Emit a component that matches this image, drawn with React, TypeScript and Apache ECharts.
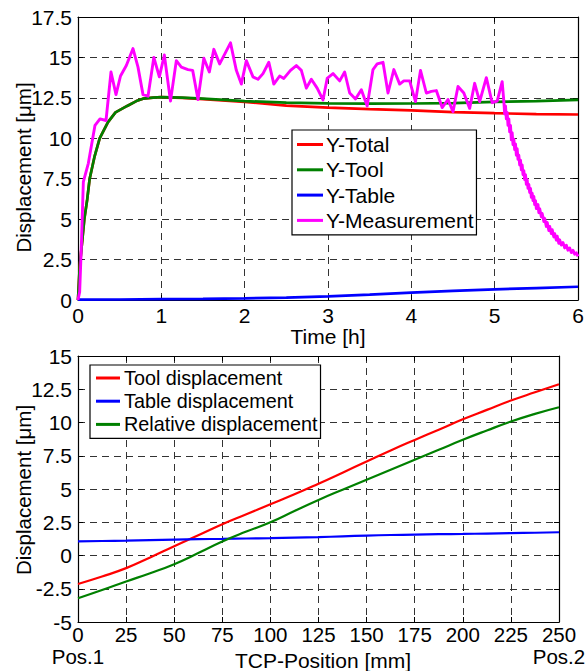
import React, { useEffect, useRef } from 'react';
import * as echarts from 'echarts';

const FONT = '"Liberation Sans", Arial, Helvetica, sans-serif';

// ---------- Top chart: displacement over time ----------
const timeTicks = [0, 1, 2, 3, 4, 5, 6];

const yTool: [number, number][] = [
  [0, 0], [0.02, 2.0], [0.044, 3.3], [0.076, 5.0], [0.11, 6.2], [0.14, 7.5], [0.2, 8.9],
  [0.26, 10.0], [0.36, 11.0], [0.45, 11.6], [0.59, 12.0], [0.7, 12.3], [0.78, 12.45],
  [0.9, 12.52], [1.0, 12.55], [1.25, 12.52], [1.5, 12.45], [2, 12.3], [2.5, 12.2],
  [3, 12.16], [3.5, 12.14], [4, 12.15], [4.5, 12.18], [5, 12.25], [5.5, 12.3], [6, 12.38],
];

const yTotal: [number, number][] = [
  [0, 0], [0.02, 2.0], [0.044, 3.3], [0.076, 5.0], [0.11, 6.2], [0.14, 7.5], [0.2, 8.9],
  [0.26, 10.0], [0.36, 11.0], [0.45, 11.6], [0.59, 12.0], [0.7, 12.3], [0.78, 12.45],
  [0.9, 12.52], [1.0, 12.55], [1.25, 12.5], [1.5, 12.42], [2, 12.25], [2.5, 12.02],
  [3, 11.9], [3.5, 11.8], [4, 11.72], [4.5, 11.62], [5, 11.55], [5.5, 11.5], [6, 11.47],
];

const yTable: [number, number][] = [
  [0, 0.02], [0.5, 0.03], [1, 0.05], [1.5, 0.07], [2, 0.1], [2.5, 0.15], [3, 0.22],
  [3.5, 0.33], [4, 0.45], [4.5, 0.56], [5, 0.66], [5.5, 0.74], [6, 0.82],
];

const yMeasurement: [number, number][] = [
  [0, 0], [0.02, 0.5], [0.04, 3.3], [0.064, 7.3], [0.124, 8.45], [0.204, 10.8], [0.264, 11.2],
  [0.336, 11.1], [0.396, 14.1], [0.456, 12.7], [0.51, 13.85], [0.58, 14.5], [0.66, 15.55],
  [0.72, 14.4], [0.78, 12.7], [0.84, 12.6], [0.91, 15.0], [0.976, 13.8], [1.036, 15.15],
  [1.11, 12.3], [1.18, 14.8], [1.24, 14.4], [1.32, 14.25], [1.376, 14.2], [1.44, 12.4],
  [1.51, 14.95], [1.576, 14.1], [1.63, 15.5], [1.7, 14.6], [1.83, 15.9], [1.9, 14.2],
  [1.96, 13.35], [2.02, 14.8], [2.1, 13.8], [2.16, 13.65], [2.22, 14.0], [2.29, 14.7],
  [2.35, 13.35], [2.42, 13.85], [2.47, 13.7], [2.55, 14.2], [2.62, 14.5], [2.68, 14.2],
  [2.74, 13.1], [2.8, 13.65], [2.87, 13.1], [2.94, 12.37], [2.99, 13.7], [3.06, 14.0],
  [3.14, 13.55], [3.2, 14.1], [3.26, 12.8], [3.33, 12.43], [3.4, 13.0], [3.47, 12.0],
  [3.54, 14.25], [3.59, 14.6], [3.66, 14.7], [3.72, 12.8], [3.79, 14.25], [3.86, 13.35],
  [3.91, 13.55], [3.98, 13.55], [4.05, 12.27], [4.11, 14.2], [4.18, 12.8], [4.24, 12.9],
  [4.3, 12.95], [4.37, 11.9], [4.44, 12.4], [4.5, 11.65], [4.56, 13.2], [4.63, 12.8],
  [4.7, 11.85], [4.76, 13.4], [4.82, 12.27], [4.9, 13.75], [4.97, 12.2], [5.03, 12.3],
  [5.09, 13.5], [5.11, 12.3], [5.12, 11.5], [5.13, 12.0], [5.14, 11.2], [5.15, 11.6],
  [5.16, 10.8], [5.17, 11.2], [5.18, 10.4], [5.19, 10.8], [5.2, 9.9], [5.21, 10.35],
  [5.22, 9.6], [5.23, 9.95], [5.24, 9.3], [5.25, 9.65], [5.26, 8.95], [5.27, 9.35], [5.28, 8.7],
  [5.29, 8.95], [5.3, 8.35], [5.31, 8.65], [5.32, 8.05], [5.33, 8.35], [5.34, 7.75], [5.35, 8.0],
  [5.36, 7.45], [5.37, 7.75], [5.38, 7.15], [5.39, 7.45], [5.4, 6.9], [5.41, 7.15], [5.42, 6.65],
  [5.43, 6.9], [5.44, 6.35], [5.45, 6.6], [5.46, 6.15], [5.47, 6.4], [5.48, 5.9],
  [5.49, 6.15], [5.5, 5.65], [5.52, 5.9], [5.53, 5.4], [5.54, 5.65], [5.56, 5.15], [5.57, 5.35],
  [5.59, 4.85], [5.6, 5.05], [5.62, 4.55], [5.63, 4.8], [5.65, 4.3], [5.66, 4.55], [5.68, 4.1],
  [5.69, 4.35], [5.71, 3.9], [5.72, 4.1], [5.74, 3.7], [5.75, 3.95], [5.77, 3.5],
  [5.78, 3.72], [5.8, 3.4], [5.82, 3.55], [5.84, 3.22], [5.86, 3.38], [5.88, 3.08], [5.9, 3.22],
  [5.92, 2.93], [5.94, 3.07], [5.96, 2.83], [5.98, 2.92], [6.0, 2.7],
];

// ---------- Bottom chart: displacement over TCP position ----------
const tcpPositions = [
  0, 12.5, 25, 37.5, 50, 62.5, 75, 87.5, 100, 112.5, 125, 137.5, 150, 162.5, 175, 187.5,
  200, 212.5, 225, 237.5, 250,
];
const toolDisplacement = [
  -2.14, -1.58, -0.95, -0.15, 0.7, 1.52, 2.35, 3.1, 3.85, 4.6, 5.4, 6.23, 7.07, 7.9, 8.69, 9.46,
  10.24, 10.95, 11.65, 12.27, 12.87,
];
const tableDisplacement = [
  1.06, 1.09, 1.12, 1.16, 1.2, 1.23, 1.25, 1.28, 1.3, 1.34, 1.38, 1.44, 1.5, 1.54, 1.57,
  1.6, 1.62, 1.65, 1.68, 1.71, 1.75,
];
const relativeDisplacement = [
  -3.22, -2.6, -1.95, -1.33, -0.65, 0.18, 1.05, 1.8, 2.5, 3.35, 4.18, 4.95, 5.7, 6.45, 7.2,
  7.95, 8.7, 9.4, 10.07, 10.65, 11.15,
];
// Position markers written under the first and last TCP ticks
const positionMarkers = ['Pos.1', 'Pos.2'];

const topLegend = ['Y-Total', 'Y-Tool', 'Y-Table', 'Y-Measurement'];
const bottomLegend = ['Tool displacement', 'Table displacement', 'Relative displacement'];
const yAxisTitle = 'Displacement [μm]';

const RED = '#ff0000';
const GREEN = '#008000';
const BLUE = '#0000ff';
const MAGENTA = '#ff00ff';

const FS = 21;
const labelStyle = { color: '#000', fontSize: FS, fontFamily: FONT };
const gridLine = { show: true, lineStyle: { color: '#333', type: [7, 5] as any, width: 1 } };
const axisLineCfg = { show: true, onZero: false, lineStyle: { color: '#000', width: 1.2 } };
const tickCfg = { show: true, inside: true, length: 5, lineStyle: { color: '#000', width: 1 } };

function boxAxis(gridIndex: number, position: string, min: number, max: number, interval: number) {
  return {
    type: 'value',
    gridIndex,
    position,
    min,
    max,
    interval,
    axisLine: axisLineCfg,
    axisTick: tickCfg,
    axisLabel: { show: false },
    splitLine: { show: false },
  };
}

function yTitle(x: number, y: number) {
  return {
    type: 'text',
    x,
    y,
    rotation: Math.PI / 2,
    style: {
      text: yAxisTitle,
      fill: '#000',
      font: `20.5px ${FONT}`,
      align: 'center',
      verticalAlign: 'middle',
    },
  };
}

export default function App() {
  const ref = useRef<HTMLDivElement>(null);

  useEffect(() => {
    if (!ref.current) return;
    const chart = echarts.init(ref.current, undefined, { renderer: 'svg' });

    const pair = (xs: number[], ys: number[]) => xs.map((x, i) => [x, ys[i]]);

    chart.setOption({
      animation: false,
      backgroundColor: '#fff',
      grid: [
        { left: 78, top: 17, width: 500, height: 283, containLabel: false, outerBoundsMode: 'none' },
        { left: 78, top: 356, width: 481, height: 266, containLabel: false, outerBoundsMode: 'none' },
      ],
      xAxis: [
        {
          type: 'value',
          gridIndex: 0,
          position: 'bottom',
          min: timeTicks[0],
          max: timeTicks[timeTicks.length - 1],
          interval: 1,
          axisLine: axisLineCfg,
          axisTick: tickCfg,
          axisLabel: { ...labelStyle, margin: 5, lineHeight: 20 },
          splitLine: gridLine,
          name: 'Time [h]',
          nameLocation: 'middle',
          nameGap: 26,
          nameMoveOverlap: false,
          nameTextStyle: { ...labelStyle, lineHeight: 20 },
        },
        boxAxis(0, 'top', 0, 6, 1),
        {
          type: 'value',
          gridIndex: 1,
          position: 'bottom',
          min: 0,
          max: 250,
          interval: 25,
          axisLine: axisLineCfg,
          axisTick: tickCfg,
          axisLabel: { ...labelStyle, fontSize: 20.5, margin: 2.5, lineHeight: 20 },
          splitLine: gridLine,
          name: 'TCP-Position [mm]',
          nameLocation: 'middle',
          nameGap: 27.5,
          nameMoveOverlap: false,
          nameTextStyle: { ...labelStyle, lineHeight: 21, padding: [0, 0, 0, 9] },
        },
        boxAxis(1, 'top', 0, 250, 25),
      ],
      yAxis: [
        {
          type: 'value',
          gridIndex: 0,
          position: 'left',
          min: 0,
          max: 17.5,
          interval: 2.5,
          axisLine: axisLineCfg,
          axisTick: tickCfg,
          axisLabel: { ...labelStyle, margin: 6 },
          splitLine: gridLine,
        },
        boxAxis(0, 'right', 0, 17.5, 2.5),
        {
          type: 'value',
          gridIndex: 1,
          position: 'left',
          min: -5,
          max: 15,
          interval: 2.5,
          axisLine: axisLineCfg,
          axisTick: tickCfg,
          axisLabel: { ...labelStyle, margin: 6 },
          splitLine: gridLine,
        },
        boxAxis(1, 'right', -5, 15, 2.5),
      ],
      legend: [
        {
          data: topLegend,
          orient: 'vertical',
          left: 292,
          top: 130,
          padding: [4, 3, 4, 5],
          itemGap: 4.3,
          itemWidth: 26,
          itemHeight: 3,
          icon: 'rect',
          backgroundColor: '#fff',
          borderColor: '#000',
          borderWidth: 1.2,
          borderRadius: 0,
          selectedMode: false,
          textStyle: { color: '#000', fontSize: 21, fontFamily: FONT, lineHeight: 20, padding: [0, 0, 0, -2] },
        },
        {
          data: bottomLegend,
          orient: 'vertical',
          left: 90,
          top: 365,
          padding: [3, 3, 4, 6],
          itemGap: 3.2,
          itemWidth: 24,
          itemHeight: 3,
          icon: 'rect',
          backgroundColor: '#fff',
          borderColor: '#000',
          borderWidth: 1.2,
          borderRadius: 0,
          selectedMode: false,
          textStyle: { color: '#000', fontSize: 19.8, fontFamily: FONT, lineHeight: 20, padding: [0, 0, 0, -1] },
        },
      ],
      series: [
        {
          name: 'Y-Total', type: 'line', xAxisIndex: 0, yAxisIndex: 0, data: yTotal,
          symbol: 'none', showSymbol: false, lineStyle: { color: RED, width: 2.7 }, itemStyle: { color: RED },
        },
        {
          name: 'Y-Tool', type: 'line', xAxisIndex: 0, yAxisIndex: 0, data: yTool,
          symbol: 'none', showSymbol: false, lineStyle: { color: GREEN, width: 2.7 }, itemStyle: { color: GREEN },
        },
        {
          name: 'Y-Table', type: 'line', xAxisIndex: 0, yAxisIndex: 0, data: yTable,
          symbol: 'none', showSymbol: false, lineStyle: { color: BLUE, width: 2.7 }, itemStyle: { color: BLUE },
        },
        {
          name: 'Y-Measurement', type: 'line', xAxisIndex: 0, yAxisIndex: 0, data: yMeasurement,
          symbol: 'none', showSymbol: false, lineStyle: { color: MAGENTA, width: 2.9, join: 'round' }, itemStyle: { color: MAGENTA },
        },
        {
          name: 'Tool displacement', type: 'line', xAxisIndex: 2, yAxisIndex: 2,
          data: pair(tcpPositions, toolDisplacement), smooth: 0.5,
          symbol: 'none', showSymbol: false, lineStyle: { color: RED, width: 2.2 }, itemStyle: { color: RED },
        },
        {
          name: 'Table displacement', type: 'line', xAxisIndex: 2, yAxisIndex: 2,
          data: pair(tcpPositions, tableDisplacement), smooth: 0.5,
          symbol: 'none', showSymbol: false, lineStyle: { color: BLUE, width: 2.2 }, itemStyle: { color: BLUE },
        },
        {
          name: 'Relative displacement', type: 'line', xAxisIndex: 2, yAxisIndex: 2,
          data: pair(tcpPositions, relativeDisplacement), smooth: 0.5,
          symbol: 'none', showSymbol: false, lineStyle: { color: GREEN, width: 2.2 }, itemStyle: { color: GREEN },
        },
      ],
    });

    // Pos.1 / Pos.2 markers under the first and last ticks, positioned via the axis scale
    const ends = [tcpPositions[0], tcpPositions[tcpPositions.length - 1]];
    const markers = ends.map((v, i) => {
      const px = chart.convertToPixel({ xAxisIndex: 2, yAxisIndex: 2 } as any, [v, -5]) as number[];
      return {
        type: 'text',
        x: px[0],
        y: px[1] + 34,
        style: {
          text: positionMarkers[i],
          fill: '#000',
          font: `20.5px ${FONT}`,
          align: 'center',
          verticalAlign: 'middle',
        },
      };
    });
    chart.setOption({ graphic: [yTitle(23, 167.5), yTitle(23, 490), ...markers] });

    return () => chart.dispose();
  }, []);

  return (
    <div
      ref={ref}
      style={{ position: 'fixed', left: 0, top: 0, width: 587, height: 671, background: '#fff' }}
    />
  );
}
